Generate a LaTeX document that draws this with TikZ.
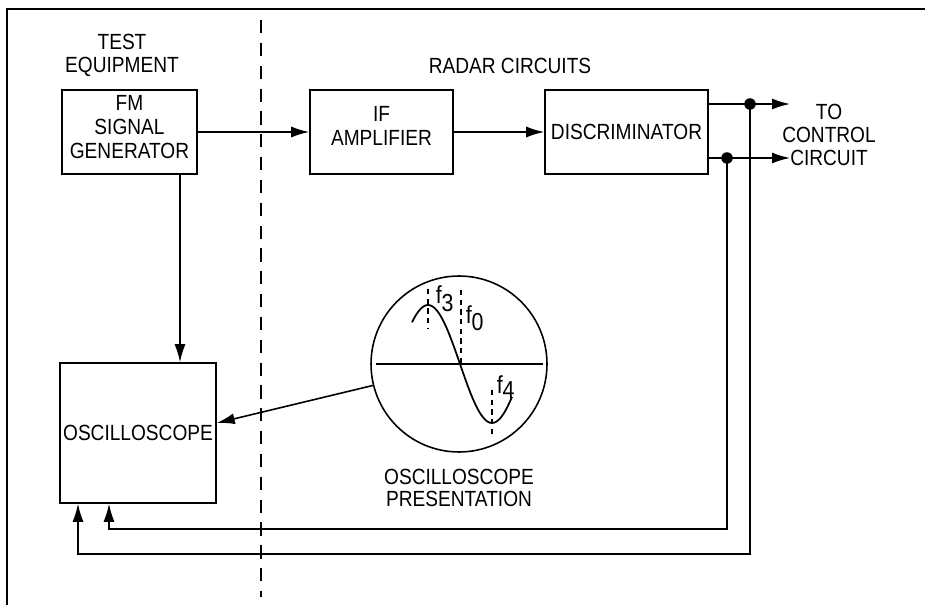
\documentclass[tikz,border=0pt]{standalone}
\usepackage{fontspec}
\setmainfont{Liberation Sans}[FakeStretch=0.87]
\usetikzlibrary{positioning,arrows.meta}

\begin{document}
\begin{tikzpicture}[x=0.02cm, y=-0.02cm, line width=0.9pt,
    blocco/.style={draw, rectangle, align=center, inner sep=1pt, font=\fontsize{12.5}{13.5}\selectfont},
    etichetta/.style={align=center, font=\fontsize{12.5}{13}\selectfont},
    freccia/.style={-{Latex[length=3.6mm,width=2.2mm]}},
    punto/.style={circle, fill, inner sep=0pt, minimum size=2.3mm},
    marca/.style={dash pattern=on 3pt off 2.5pt, line width=0.6pt},
    freq/.style={anchor=base west, inner sep=0pt, font=\fontsize{14}{16}\selectfont}]
  \useasboundingbox (0,0) rectangle (925,607);
  % cornice e separazione
  \draw[line width=1.1pt] (925,9) -- (7,9) -- (7,605);
  \draw[dash pattern=on 7.5pt off 5.5pt] (261,20) -- (261,597);
  % blocchi
  \node[blocco, minimum width=2.7cm, minimum height=1.68cm] (fmgen) at (129.5,132) {FM\\SIGNAL\\GENERATOR\\[-8pt]};
  \node[blocco, minimum width=2.86cm, minimum height=1.68cm] (ifamp) at (381.5,132) {IF\\AMPLIFIER\\[-7pt]};
  \node[blocco, minimum width=3.26cm, minimum height=1.68cm] (disc) at (626.5,132) {DISCRIMINATOR};
  \node[blocco, minimum width=3.12cm, minimum height=2.8cm] (osc) at (138,433) {OSCILLOSCOPE};
  \node[etichetta] (testeq) at (122,55) {TEST\\EQUIPMENT};
  \node[etichetta] (radar) at (510,66) {RADAR CIRCUITS};
  \node[etichetta] (tocontrol) at (829,135) {TO\\CONTROL\\CIRCUIT};
  \node[etichetta] (presentaz) at (459,488) {OSCILLOSCOPE\\PRESENTATION};
  % collegamenti
  \draw[freccia] (fmgen) -- (ifamp);
  \draw[freccia] (ifamp) -- (disc);
  \coordinate (usc1) at (790,104);
  \coordinate (usc2) at (790,158);
  \draw[freccia] (disc.east |- usc1) -- (usc1);
  \draw[freccia] (disc.east |- usc2) -- (usc2);
  \node[punto] (nodo1) at (750,104) {};
  \node[punto] (nodo2) at (727,158) {};
  \coordinate (rit1) at (78,554);
  \coordinate (rit2) at (109,529);
  \draw[freccia] (nodo1.center) |- (rit1) -- (rit1 |- osc.south);
  \draw[freccia] (nodo2.center) |- (rit2) -- (rit2 |- osc.south);
  \coordinate (discesa) at (180,0);
  \draw[freccia] (fmgen.south -| discesa) -- (osc.north -| discesa);
  % schermo dell'oscilloscopio
  \node[draw, circle, minimum size=3.52cm, inner sep=0pt] (schermo) at (459,364) {};
  \draw[freccia] (schermo.194) -- ([yshift=0.2cm]osc.east);
  \draw[line width=0.7pt] ([xshift=0.12cm]schermo.west) -- ([xshift=-0.1cm]schermo.east);
  \draw[line width=1pt] plot[domain=412:512, samples=50] (\x, {364-59*cos(180*(\x-428)/64)});
  \draw[marca] (428,289) -- (428,329);
  \draw[marca] (461,290) -- (461,364);
  \draw[marca] (492,390) -- (492,435);
  \node[freq] (lf3) at (435,304) {f\raisebox{-4pt}{3}};
  \node[freq] (lf0) at (465,324) {f\raisebox{-3.5pt}{0}};
  \node[freq] (lf4) at (496,393) {f\raisebox{-3pt}{4}};
\end{tikzpicture}
\end{document}
